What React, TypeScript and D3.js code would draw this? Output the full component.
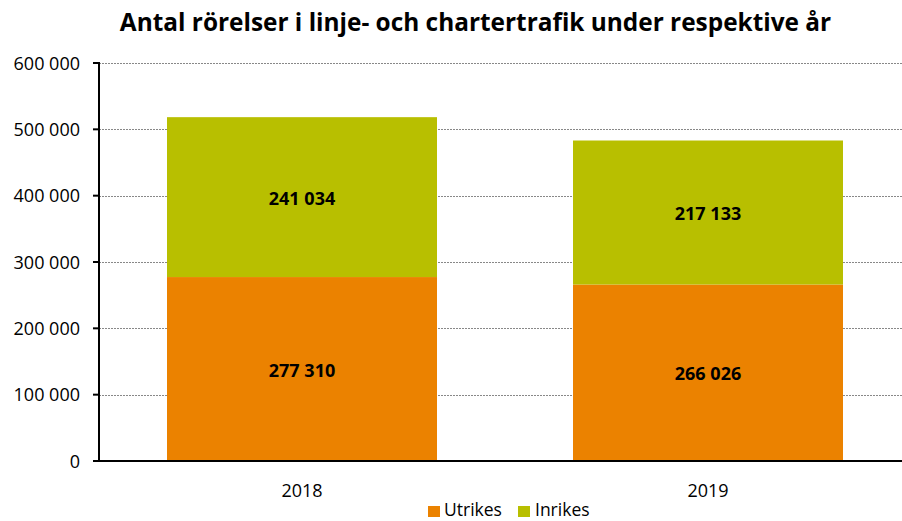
import React from "react";
import * as d3 from "d3";

const categories = ["2018", "2019"];
const utrikes = [277310, 266026];
const inrikes = [241034, 217133];
const yTicks = [0, 100000, 200000, 300000, 400000, 500000, 600000];
const seriesNames = ["Utrikes", "Inrikes"];
const colors = ["#EB8200", "#B8BF00"];

const fmt = (v: number) => d3.format(",")(v).replace(/,/g, " ");

export default function App() {
  const W = 902, H = 521;
  const left = 99, right = 911, top = 63, bottom = 461;
  const x = d3.scaleBand().domain(categories).range([left, right]).paddingInner(0.335).paddingOuter(0.1675);
  const y = d3.scaleLinear().domain([0, 600000]).range([bottom, top]);
  const font = "'Open Sans', Lato, sans-serif";
  const stack = d3.stack<any>().keys(seriesNames)(
    categories.map((c, i) => ({ cat: c, Utrikes: utrikes[i], Inrikes: inrikes[i] }))
  );
  return (
    <svg width={W} height={H} style={{ position: "absolute", left: 0, top: 0, fontFamily: font }}>
      <rect width={W} height={H} fill="#fff" />
      <text x={475.5} y={31} textAnchor="middle" fontSize={24.4} fontWeight="bold" fill="#000">
        Antal rörelser i linje- och chartertrafik under respektive år
      </text>
      {yTicks.filter(t => t > 0).map(t => (
        <line key={t} x1={left} x2={W} y1={Math.round(y(t)) + 0.5} y2={Math.round(y(t)) + 0.5}
          stroke="#888" strokeWidth={1} strokeDasharray="2,1" />
      ))}
      {stack.map((s, si) =>
        s.map((d, i) => {
          const cat = categories[i];
          const x0 = x(cat)!;
          return (
            <g key={si + "-" + i}>
              <rect x={x0} width={x.bandwidth()} y={y(d[1])} height={y(d[0]) - y(d[1])} fill={colors[si]} />
              <text x={x0 + x.bandwidth() / 2} y={(y(d[0]) + y(d[1])) / 2 + 7.5} textAnchor="middle"
                fontSize={18} fontWeight="bold" fill="#000">{fmt(d[1] - d[0])}</text>
            </g>
          );
        })
      )}
      <line x1={left} x2={left} y1={top - 1} y2={bottom + 1} stroke="#000" strokeWidth={2} />
      <line x1={left - 1} x2={W} y1={bottom} y2={bottom} stroke="#000" strokeWidth={2} />
      {yTicks.map(t => (
        <g key={t}>
          <line x1={left - 6} x2={left} y1={y(t)} y2={y(t)} stroke="#000" strokeWidth={2} />
          <text x={80} y={y(t) + 6.5} textAnchor="end" fontSize={18} fill="#000">{fmt(t)}</text>
        </g>
      ))}
      {categories.map(c => (
        <text key={c} x={x(c)! + x.bandwidth() / 2} y={497} textAnchor="middle" fontSize={18} fill="#000">{c}</text>
      ))}
      <g>
        <rect x={428} y={506} width={12} height={11} fill={colors[0]} />
        <text x={444} y={516} fontSize={17.5} fill="#000">{seriesNames[0]}</text>
        <rect x={518} y={506} width={12} height={11} fill={colors[1]} />
        <text x={535} y={516} fontSize={17.5} fill="#000">{seriesNames[1]}</text>
      </g>
    </svg>
  );
}
